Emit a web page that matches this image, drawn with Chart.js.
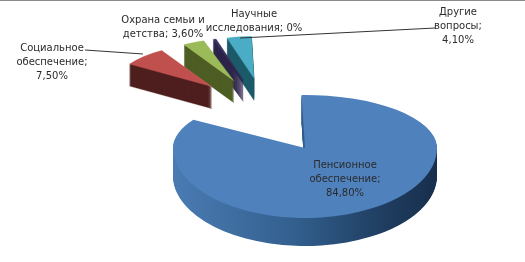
<!DOCTYPE html>
<html><head><meta charset="utf-8">
<style>html,body{margin:0;padding:0;background:#fff}#w{width:525px;height:262px;position:relative}</style>
<script src="https://cdn.jsdelivr.net/npm/chart.js@4"></script>
</head><body><div id="w"><canvas id="c" width="525" height="262"></canvas></div>
<script>
const categories = ['Пенсионное обеспечение','Социальное обеспечение','Охрана семьи и детства','Научные исследования','Другие вопросы'];
const shares = [84.8, 7.5, 3.6, 0.5, 4.1];   // science is labelled 0% but is drawn as a visible sliver
const valueLabels = ['84,80%','7,50%','3,60%','0%','4,10%'];
const topColors = ['#4f81bd','#c0504d','#9bbb59','#3b3264','#4bacc6'];
const wallColors = [null,'#4e1f1e','#4d5d24','#2c2449','#1c5a69'];
const labelLines = [
  ['Пенсионное','обеспечение;','84,80%'],
  ['Социальное','обеспечение;','7,50%'],
  ['Охрана семьи и','детства; 3,60%'],
  ['Научные','исследования; 0%'],
  ['Другие','вопросы;','4,10%']
];
const labelAnchors = [[345,165],[52,48],[163,20],[254,14],[458,12]];
const leaders = [null,[[85,50],[143,54]],null,null,[[240,38],[435,28]]];

const R = 132;
const DEPTH_MAIN = 28, DEPTH_SLICE = 22;
const SY_BACK = 53/R, SY_FRONT = 70/R;
const SLICE_SX = 97/R, SLICE_SY = 42/R;
const EXPLODE_X = 78, EXPLODE_Y = 30, SHIFT_X = -39, SHIFT_Y = -40;

function drawWith(arc, ctx, color, edge){
  const o = arc.options;
  arc.options = Object.assign({}, o, {backgroundColor: color, borderWidth: edge || 0, borderColor: color});
  arc.draw(ctx);
  arc.options = o;
}
function mainLayer(arc, ctx, dy, color){
  const {x, y} = arc.getProps(['x','y'], true);
  [SY_BACK, SY_FRONT].forEach((sy, idx) => {
    ctx.save();
    ctx.beginPath();
    if (idx === 0) ctx.rect(0, y+dy-400, 525, 400); else ctx.rect(0, y+dy, 525, 400);
    ctx.clip();
    ctx.translate(x, y+dy); ctx.scale(1, sy); ctx.translate(-x, -y);
    drawWith(arc, ctx, color);
    ctx.restore();
  });
}
const pie3d = {
  id: 'pie3d',
  beforeDatasetsDraw(chart){
    const ctx = chart.ctx;
    const arcs = chart.getDatasetMeta(0).data;
    for (let i = arcs.length-1; i >= 1; i--) {
      const arc = arcs[i];
      const {x, y, startAngle, endAngle} = arc.getProps(['x','y','startAngle','endAngle'], true);
      const mid = (startAngle+endAngle)/2;
      const ax = x + SHIFT_X + EXPLODE_X*Math.cos(mid);
      const ay = y + SHIFT_Y + EXPLODE_Y*Math.sin(mid);
      for (let d = DEPTH_SLICE; d >= 0; d--) {
        ctx.save();
        ctx.translate(ax, ay+d); ctx.scale(SLICE_SX, SLICE_SY); ctx.translate(-x, -y);
        drawWith(arc, ctx, d === 0 ? topColors[i] : wallColors[i], 0.6);
        ctx.restore();
      }
    }
    const m = arcs[0];
    const g = ctx.createLinearGradient(m.x-R, 0, m.x+R, 0);
    g.addColorStop(0, '#4a7bb3'); g.addColorStop(0.45, '#33608f');
    g.addColorStop(0.8, '#1f3d60'); g.addColorStop(1, '#172f4c');
    for (let d = DEPTH_MAIN; d >= 1; d--) mainLayer(m, ctx, d, g);
    mainLayer(m, ctx, 0, topColors[0]);
    return false;
  },
  afterDraw(chart){
    const ctx = chart.ctx;
    ctx.save();
    ctx.fillStyle = '#8a8a8a'; ctx.fillRect(0,0,525,1);
    ctx.strokeStyle = '#333'; ctx.lineWidth = 1;
    leaders.forEach(l => { if(!l) return; ctx.beginPath(); ctx.moveTo(l[0][0],l[0][1]); ctx.lineTo(l[1][0],l[1][1]); ctx.stroke(); });
    ctx.fillStyle = '#2b2b2b'; ctx.font = '10px "DejaVu Sans"'; ctx.textAlign='center'; ctx.textBaseline='middle';
    labelLines.forEach((ls,i) => ls.forEach((t,j) => ctx.fillText(t, labelAnchors[i][0], labelAnchors[i][1]+j*14)));
    ctx.restore();
  }
};
new Chart(document.getElementById('c'), {
  type: 'pie',
  data: { labels: categories, datasets: [{ data: shares, backgroundColor: topColors, borderWidth: 0 }] },
  options: {
    responsive: false, animation: false, radius: R, rotation: -1.5,
    layout: { padding: { left: 85, top: 34 } },
    plugins: { legend: {display:false}, tooltip: {enabled:false} }
  },
  plugins: [pie3d]
});
</script></body></html>
